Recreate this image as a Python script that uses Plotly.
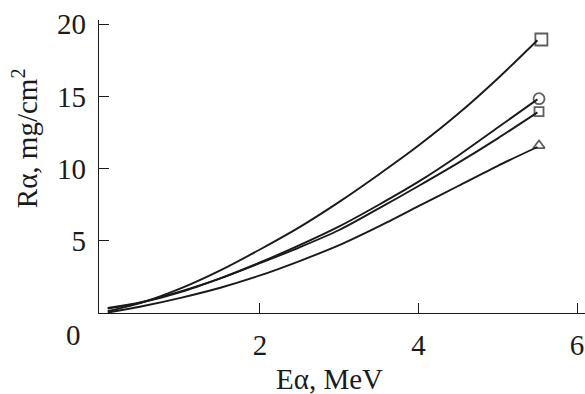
import plotly.graph_objects as go

energy = [0.08, 0.5, 1.0, 1.5, 2.0, 2.5, 3.0, 3.5, 4.0, 4.5, 5.0, 5.5]
r_square = [0.12, 0.7, 1.7, 2.95, 4.4, 5.95, 7.7, 9.6, 11.6, 13.8, 16.25, 18.9]
r_circle = [0.35, 0.75, 1.5, 2.4, 3.5, 4.7, 6.0, 7.5, 9.1, 10.9, 12.85, 14.8]
r_parallel = [0.3, 0.72, 1.45, 2.4, 3.45, 4.55, 5.75, 7.25, 8.8, 10.4, 12.1, 13.9]
r_triangle = [0.03, 0.45, 1.05, 1.75, 2.6, 3.6, 4.7, 6.0, 7.4, 8.8, 10.2, 11.5]

end_x = [5.55, 5.52, 5.52, 5.52]
end_y = [18.95, 14.85, 13.95, 11.6]
end_symbols = ["square-open", "circle-open", "square-open", "triangle-up-open"]
end_sizes = [12, 11, 9, 10]

x_ticks = [2, 4, 6]
y_ticks = [5, 10, 15, 20]

ink = "#1a1a1a"
font_family = "Liberation Serif, Times New Roman, serif"

fig = go.Figure()
for ys in [r_square, r_circle, r_parallel, r_triangle]:
    fig.add_trace(go.Scatter(x=energy, y=ys, mode="lines",
                             line=dict(color=ink, width=1.9, shape="spline", smoothing=0.8),
                             showlegend=False, hoverinfo="skip"))

fig.add_trace(go.Scatter(x=end_x, y=end_y, mode="markers",
                         marker=dict(symbol=end_symbols, size=end_sizes, color=ink,
                                     line=dict(color=ink, width=1.8)),
                         showlegend=False, hoverinfo="skip"))

fig.update_layout(
    width=585, height=394,
    margin=dict(l=99, r=0, t=20, b=81),
    paper_bgcolor="white", plot_bgcolor="white",
    font=dict(family=font_family, size=29, color=ink),
    xaxis=dict(range=[-0.03, 6.1], tickvals=x_ticks, ticks="inside", ticklen=10,
               tickwidth=1.2, tickcolor=ink, showline=True, linecolor=ink, linewidth=1.2,
               showgrid=False, zeroline=False, ticklabelstandoff=6, automargin=False,
               tickfont=dict(family=font_family, size=29, color=ink)),
    yaxis=dict(range=[0, 20.3], tickvals=y_ticks, ticks="inside", ticklen=10,
               tickwidth=1.2, tickcolor=ink, showline=True, linecolor=ink, linewidth=1.2,
               showgrid=False, zeroline=False, ticklabelstandoff=6, automargin=False,
               tickfont=dict(family=font_family, size=29, color=ink)),
    annotations=[
        dict(text="0", xref="x", yref="y", x=0, y=0, xshift=-28, yshift=-22,
             showarrow=False, font=dict(family=font_family, size=29, color=ink)),
        dict(text="E\u03b1, MeV", xref="paper", yref="paper", x=0.475, y=-0.226,
             xanchor="center", yanchor="middle", showarrow=False,
             font=dict(family=font_family, size=29, color=ink)),
        dict(text="R\u03b1, mg/cm<sup>2</sup>", xref="paper", yref="paper", x=-0.152, y=0.597,
             xanchor="center", yanchor="middle", textangle=-90, showarrow=False,
             font=dict(family=font_family, size=29, color=ink)),
    ],
)

fig.write_html("out.html", config={"displayModeBar": False},
               post_script="document.body.style.margin='0';document.body.style.overflow='hidden';")
